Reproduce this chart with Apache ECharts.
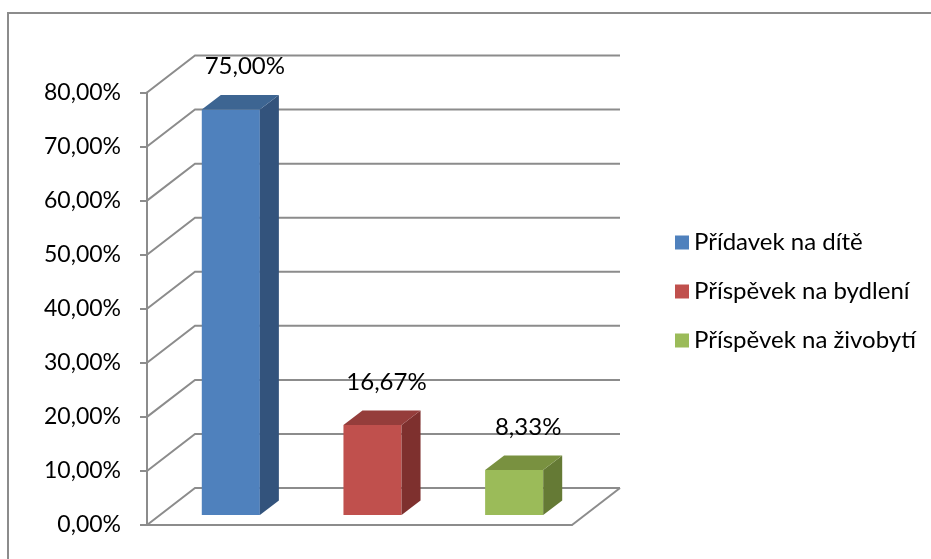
<!DOCTYPE html>
<html>
<head>
<meta charset="utf-8">
<script src="https://cdn.jsdelivr.net/npm/echarts@6/dist/echarts.min.js"></script>
<style>
html,body{margin:0;padding:0;background:#fff}
#chart{width:931px;height:559px}
</style>
</head>
<body>
<div id="chart"></div>
<script>
// data
var categories = ['Přídavek na dítě', 'Příspěvek na bydlení', 'Příspěvek na živobytí']
var values = [0.75, 0.1667, 0.0833]
var gridValues = [0, 0.1, 0.2, 0.3, 0.4, 0.5, 0.6, 0.7, 0.8]
var frontColors = ['#4f81bd', '#c0504d', '#9bbb59']
var topColors = ['#3d6592', '#953d3b', '#799140']
var sideColors = ['#33537c', '#7e302e', '#657a35']

var DEPTH_X = 48, DEPTH_Y = 37      // wall depth
var BAR_OFF_X = 13, BAR_OFF_Y = 10  // bar front offset from front plane
var BAR_DX = 19, BAR_DY = 14.5      // bar depth
var GRID_COLOR = '#8c8c8c'

function pct(v){
	return (v * 100).toFixed(2).replace('.', ',') + '%'
}

var chart = echarts.init(document.getElementById('chart'), null, {renderer: 'canvas'})

// back wall gridlines with diagonal side wall
function renderGrid(params, api){
	var cs = params.coordSys
	var v = api.value(1)
	var y = api.coord([0, v])[1]
	var x0 = cs.x, x1 = cs.x + cs.width
	var children = [{
		type: 'polyline',
		shape: {points: [[x0, y], [x0 + DEPTH_X, y - DEPTH_Y], [x1 + DEPTH_X, y - DEPTH_Y]]},
		style: {stroke: GRID_COLOR, lineWidth: 2, fill: null}
	}]
	if (v === 0) {
		children.push({
			type: 'line',
			shape: {x1: x1, y1: y, x2: x1 + DEPTH_X, y2: y - DEPTH_Y},
			style: {stroke: GRID_COLOR, lineWidth: 2}
		})
	}
	return {type: 'group', children: children}
}

function makeBarRender(idx){
	return function(params, api){
		var cat = api.value(0)
		var v = api.value(1)
		var p = api.coord([cat, v])
		var p0 = api.coord([cat, 0])
		var band = api.size([1, 0])[0]
		var w = band * 0.41
		var xl = p[0] + BAR_OFF_X - w / 2
		var xr = xl + w
		var top = p[1] - BAR_OFF_Y
		var bot = p0[1] - BAR_OFF_Y
		return {
			type: 'group',
			children: [
				{type: 'rect', shape: {x: xl, y: top, width: w, height: bot - top},
					style: {fill: frontColors[idx]}},
				{type: 'polygon', shape: {points: [[xr, top], [xr + BAR_DX, top - BAR_DY], [xr + BAR_DX, bot - BAR_DY], [xr, bot]]},
					style: {fill: sideColors[idx]}},
				{type: 'polygon', shape: {points: [[xl, top], [xl + BAR_DX, top - BAR_DY], [xr + BAR_DX, top - BAR_DY], [xr, top]]},
					style: {fill: topColors[idx]}},
				{type: 'text', x: (xl + xr) / 2 + 14, y: top - 43,
					style: {text: pct(v), fill: '#000', font: '24px Lato', align: 'center', verticalAlign: 'middle'}}
			]
		}
	}
}

var series = [{
	type: 'custom',
	name: 'grid',
	silent: true,
	z: 1,
	renderItem: renderGrid,
	data: gridValues.map(function(v){ return [0, v] })
}]
categories.forEach(function(name, i){
	series.push({
		type: 'custom',
		name: name,
		z: 5,
		itemStyle: {color: frontColors[i]},
		renderItem: makeBarRender(i),
		data: [[i, values[i]]]
	})
})

var option = {
	animation: false,
	textStyle: {fontFamily: 'Lato'},
	graphic: [{
		type: 'rect',
		shape: {x: 8, y: 13, width: 1000, height: 1000},
		style: {fill: null, stroke: GRID_COLOR, lineWidth: 2},
		silent: true
	}],
	grid: {left: 147, right: 359, top: 92.5, bottom: 34},
	legend: {
		orient: 'vertical',
		left: 670,
		top: 224,
		icon: 'rect',
		itemWidth: 14,
		itemHeight: 14,
		itemGap: 22,
		data: categories,
		textStyle: {fontSize: 24, color: '#000', fontFamily: 'Lato', lineHeight: 27}
	},
	xAxis: {
		type: 'category',
		data: categories,
		axisLine: {lineStyle: {color: GRID_COLOR, width: 2}},
		axisTick: {show: false},
		axisLabel: {show: false},
		splitLine: {show: false}
	},
	yAxis: {
		type: 'value',
		min: 0,
		max: 0.8,
		interval: 0.1,
		axisLine: {show: true, lineStyle: {color: GRID_COLOR, width: 2}},
		axisTick: {show: true, length: 7, lineStyle: {color: GRID_COLOR, width: 2}},
		splitLine: {show: false},
		axisLabel: {
			margin: 26,
			fontSize: 23,
			color: '#000',
			fontFamily: 'Lato',
			formatter: pct
		}
	},
	series: series
}
chart.setOption(option)
</script>
</body>
</html>
